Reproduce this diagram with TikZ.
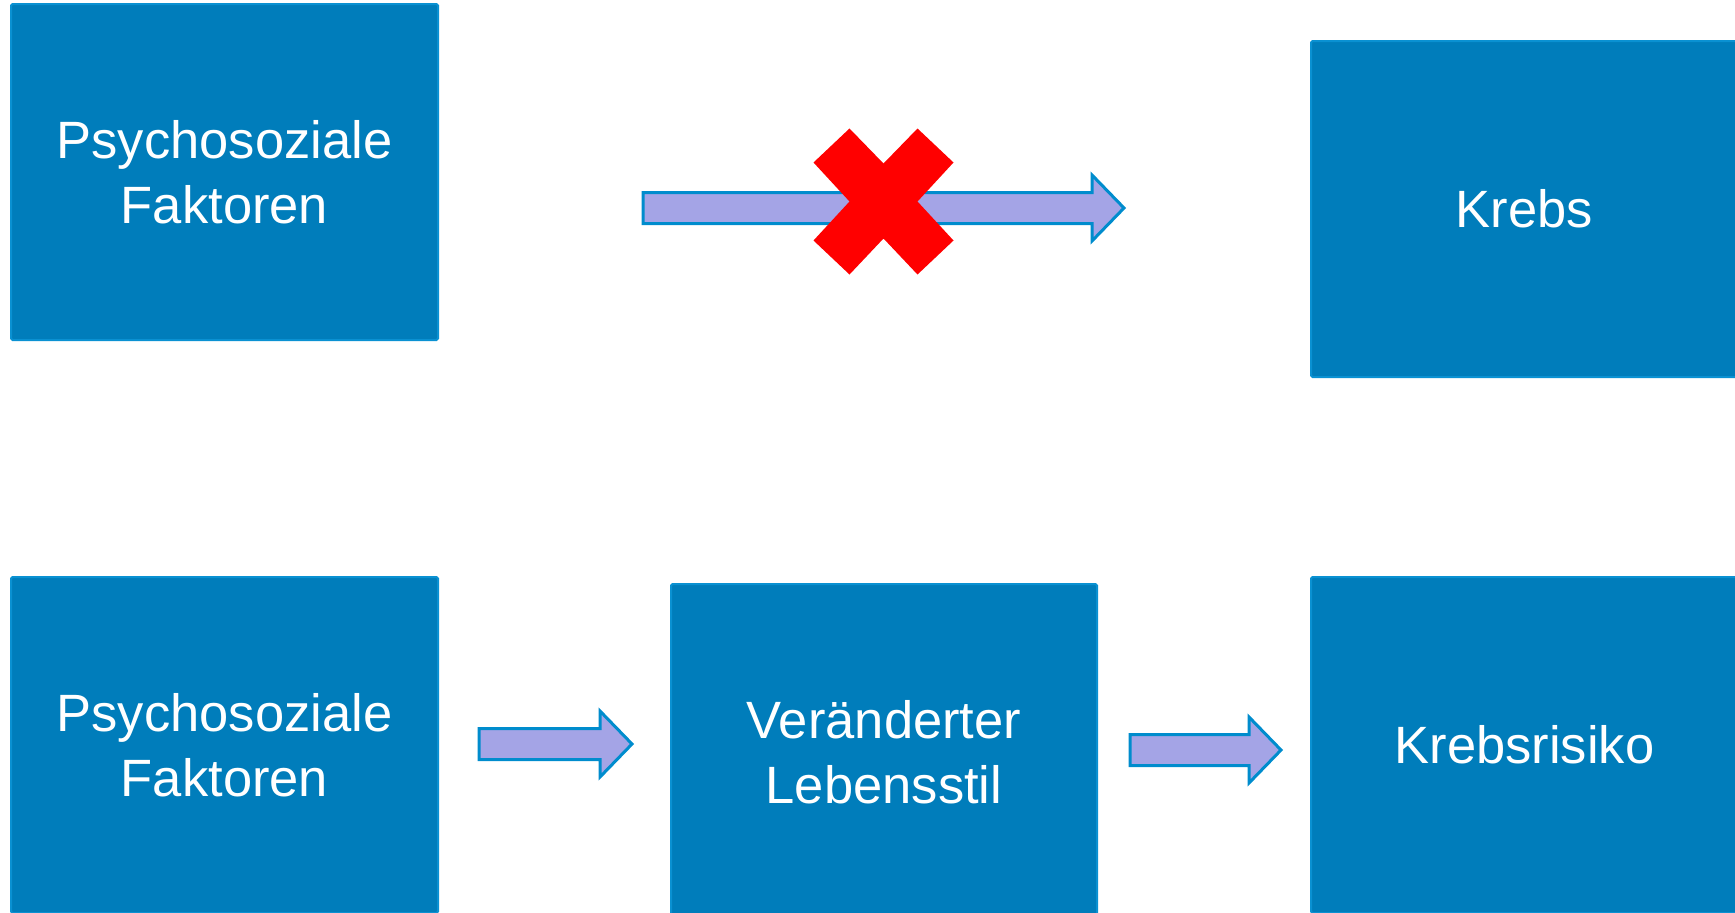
\documentclass[tikz,border=0pt]{standalone}
\usepackage{fontspec}
\setmainfont{Liberation Sans}
\usetikzlibrary{calc}
\definecolor{boxfill}{RGB}{0,125,187}
\definecolor{boxline}{RGB}{10,145,210}
\definecolor{arrowfill}{RGB}{164,164,230}
\definecolor{arrowline}{RGB}{0,140,205}
\definecolor{crossred}{RGB}{255,0,0}
\tikzset{
  factorbox/.style={draw=boxline, line width=2pt, fill=boxfill, rounded corners=1.5pt,
    minimum width=427pt, minimum height=336pt, inner sep=0pt, anchor=north west,
    text=white, align=center, font=\fontsize{52.5}{65}\selectfont},
  blockarrow/.style={draw=arrowline, line width=3pt, fill=arrowfill, line join=miter},
  crossmark/.style={fill=crossred, draw=none}
}
% block arrow from tail coordinate #1 to tip coordinate #2
\newcommand\blockarrowpath[2]{%
  \draw[blockarrow] ($(#1)+(0,-15.5)$) -- ($(#2)+(-32,-15.5)$) -- ($(#2)+(-32,-33)$)
    -- (#2) -- ($(#2)+(-32,33)$) -- ($(#2)+(-32,15.5)$) -- ($(#1)+(0,15.5)$) -- cycle;}
\begin{document}
\begin{tikzpicture}[x=1pt,y=-1pt]
  \useasboundingbox (0,0) rectangle (1735,913);
  \clip (0,0) rectangle (1735,913);

  % upper row: no direct link
  \node[factorbox] (psyA) at (10,3) {Psychosoziale\\Faktoren};
  \node[factorbox] (krebs) at (1310,40) {Krebs};
  \coordinate (aTail) at (643,208);
  \coordinate (aTip) at (1124,208);
  \blockarrowpath{aTail}{aTip}

  % red cross over the arrow
  \coordinate (xc) at (883.5,201.5);
  \fill[crossmark] ($(xc)+(-70,-39)$) -- ($(xc)+(-34,-73)$) -- ($(xc)+(0,-38)$)
    -- ($(xc)+(34,-73)$) -- ($(xc)+(70,-39)$) -- ($(xc)+(34,0)$)
    -- ($(xc)+(70,39)$) -- ($(xc)+(34,73)$) -- ($(xc)+(0,37)$)
    -- ($(xc)+(-34,73)$) -- ($(xc)+(-70,39)$) -- ($(xc)+(-34,0)$) -- cycle;

  % lower row: indirect path via lifestyle
  \node[factorbox] (psyB) at (10,576) {Psychosoziale\\Faktoren};
  \node[factorbox, minimum width=426pt] (stil) at (670,583) {Veränderter\\Lebensstil};
  \node[factorbox] (risiko) at (1310,576) {Krebsrisiko};

  \coordinate (bTail) at (479,744);
  \coordinate (bTip) at (632,744);
  \blockarrowpath{bTail}{bTip}
  \coordinate (cTail) at (1130,750);
  \coordinate (cTip) at (1281,750);
  \blockarrowpath{cTail}{cTip}
\end{tikzpicture}
\end{document}
